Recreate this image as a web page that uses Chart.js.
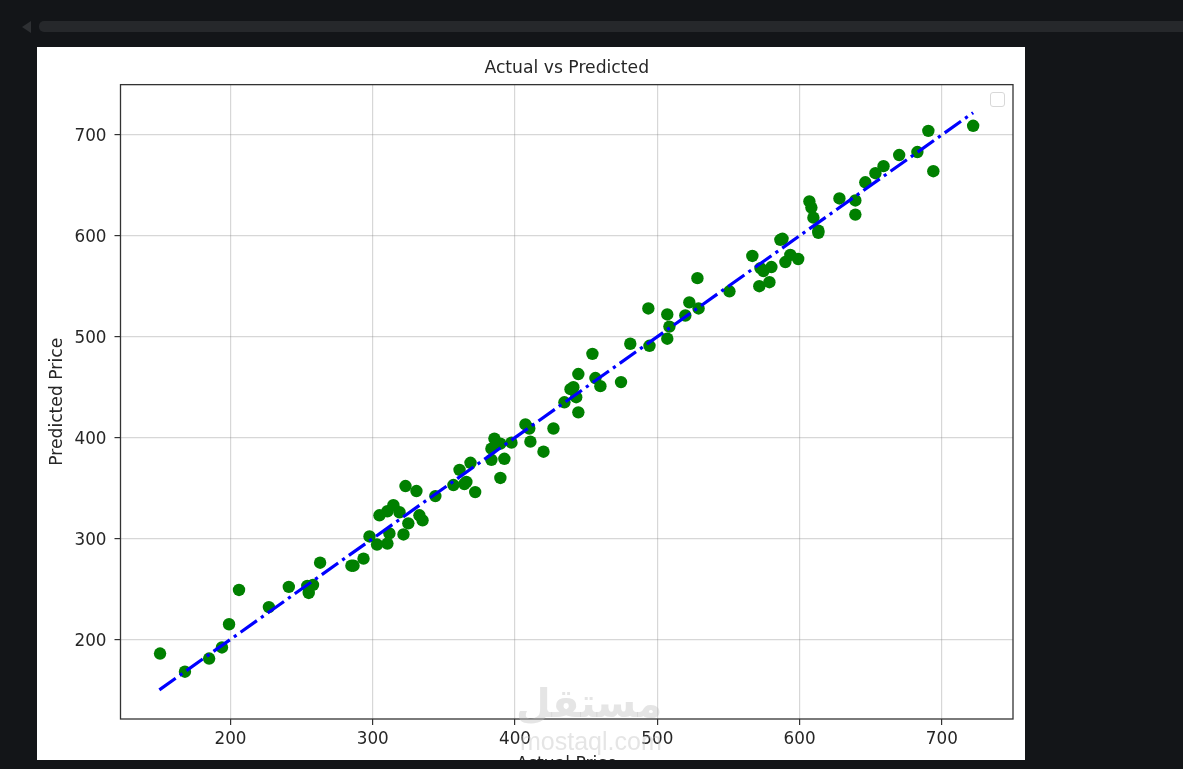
<!DOCTYPE html>
<html>
<head>
<meta charset="utf-8">
<script src="https://cdn.jsdelivr.net/npm/chart.js@4"></script>
<style>
    html, body { margin: 0; height: 100%; background: #131518; overflow: hidden; }
    #scrollTrack { position: absolute; left: 39px; top: 21px; right: 0; height: 11px; background: #26282b; border-radius: 5px 0 0 5px; }
    #scrollArrow { position: absolute; left: 22px; top: 21px; width: 0; height: 0; border-top: 6px solid transparent; border-bottom: 6px solid transparent; border-right: 9px solid #2e3033; }
    #panel { position: absolute; left: 37px; top: 47px; width: 988px; height: 728px; background: #fff; }
    #legendBox { position: absolute; left: 990px; top: 92px; width: 13px; height: 13px; border: 1px solid #d8d8d8; border-radius: 3px; background: #fff; }
    #bottomStrip { position: absolute; left: 0; top: 760px; width: 100%; height: 9px; background: #131518; }
    .mark { position: absolute; color: rgba(190, 190, 190, 0.4); white-space: nowrap; pointer-events: none; }
    #logo { left: 516px; top: 680px; font: bold 40px "DejaVu Sans", sans-serif; }
    #site { left: 520px; top: 727px; font: 25px "Liberation Sans", sans-serif; }
</style>
</head>
<body>
<div id="scrollArrow"></div>
<div id="scrollTrack"></div>
<div id="panel"><canvas id="scatterChart" width="988" height="728"></canvas></div>
<div id="legendBox"></div>
<div class="mark" id="logo">مستقل</div>
<div class="mark" id="site">mostaql.com</div>
<div id="bottomStrip"></div>
<script>
const actual = [150.5, 168, 185, 194, 199, 206, 227, 241, 254, 258, 255, 263, 285, 286.5, 293.5, 297.7, 303, 310.3, 311.7, 304.7,
    310.3, 314.5, 318.8, 323, 321.6, 325, 330.7, 332.8, 335, 344, 356.7, 361, 364.4, 365.8, 368.7, 372, 383.4, 383.4, 385.5, 389.7,
    392.5, 389.7, 397.5, 407.3, 410, 410.8, 420, 427, 434.7, 439, 441, 443, 444.5, 444.5, 454.4, 456.5, 460, 474.5, 481, 493.7,
    494.5, 507, 507, 508.5, 519.7, 522.5, 528.2, 529, 550.7, 566.8, 571.7, 572.5, 574.6, 578.8, 580.2, 586.5, 588, 590, 593.5, 599,
    606.9, 608.3, 609.7, 613.2, 613.2, 628, 639.2, 639.2, 646.2, 653.3, 659, 670, 682.8, 690.5, 694, 722];
const predicted = [186, 168, 181, 192, 215, 249, 232, 252, 253, 254, 246, 276, 273, 273, 280, 302, 294, 295, 305, 323,
    327, 333, 326, 352, 304, 315, 347, 323, 318, 342, 353, 368, 354, 356, 375, 346, 378, 389, 399, 360,
    379, 394, 395, 413, 409, 396, 386, 409, 435, 448, 450, 440, 425, 463, 483, 459, 451, 455, 493, 528,
    491, 498, 522, 510, 521, 534, 558, 528, 545, 580, 550, 568, 565, 554, 569, 596, 597, 574, 581, 577,
    634, 628, 618, 605, 603, 637, 621, 635, 653, 662, 669, 680, 683, 704, 664, 709];
const lineX = [150, 722];
const lineY = [150, 722];
const xTicks = [200, 300, 400, 500, 600, 700];
const yTicks = [200, 300, 400, 500, 600, 700];

const fontFamily = "'DejaVu Sans', sans-serif";
const textColor = '#262626';

// closes the frame on the top and right, chart.js only draws left and bottom
const frame = {
    id: 'frame',
    afterDatasetsDraw(chart) {
        const { ctx, chartArea: a } = chart;
        ctx.save();
        ctx.strokeStyle = '#333';
        ctx.lineWidth = 1.3;
        ctx.strokeRect(a.left, a.top, a.right - a.left, a.bottom - a.top);
        ctx.restore();
    }
};

function axis(ticks, min, max, label, fit, tickPad, titlePad, labelShift) {
    return {
        type: 'linear',
        min: min,
        max: max,
        afterBuildTicks: scale => { scale.ticks = ticks.map(v => ({ value: v })); },
        afterFit: fit,
        grid: { color: 'rgba(130, 130, 130, 0.32)', lineWidth: 1.2, tickLength: 6, tickColor: '#333' },
        border: { display: false },
        ticks: { color: textColor, font: { size: 16.8, family: fontFamily }, padding: tickPad, labelOffset: labelShift, maxRotation: 0, autoSkip: false },
        title: { display: true, text: label, color: textColor, font: { size: 17.2, family: fontFamily }, padding: { top: titlePad, bottom: 0 } }
    };
}

new Chart(document.getElementById('scatterChart').getContext('2d'), {
    type: 'scatter',
    data: {
        datasets: [
            {
                type: 'line',
                data: lineX.map((x, i) => ({ x: x, y: lineY[i] })),
                borderColor: '#0000ff',
                borderWidth: 3.2,
                borderDash: [20, 5, 3.2, 5],
                pointRadius: 0,
                order: 0
            },
            {
                data: actual.map((x, i) => ({ x: x, y: predicted[i] })),
                backgroundColor: '#008000',
                borderColor: '#008000',
                pointRadius: 6.2,
                pointBorderWidth: 0,
                order: 1
            }
        ]
    },
    options: {
        responsive: false,
        animation: false,
        layout: { padding: { left: 0, right: 12, top: 0, bottom: 0 } },
        scales: {
            x: axis(xTicks, 122.7, 750, 'Actual Price', scale => { scale.height = 56; }, 5, 0, 0),
            y: axis(yTicks, 121.1, 749.8, 'Predicted Price', scale => { scale.width = 83.5; }, 8, 10, 2)
        },
        plugins: {
            legend: { display: false },
            tooltip: { enabled: false },
            title: {
                display: true,
                fullSize: false,
                text: 'Actual vs Predicted',
                color: textColor,
                font: { size: 17.2, family: fontFamily, weight: 'normal' },
                padding: { top: 11, bottom: 6 }
            }
        }
    },
    plugins: [frame]
});
</script>
</body>
</html>
